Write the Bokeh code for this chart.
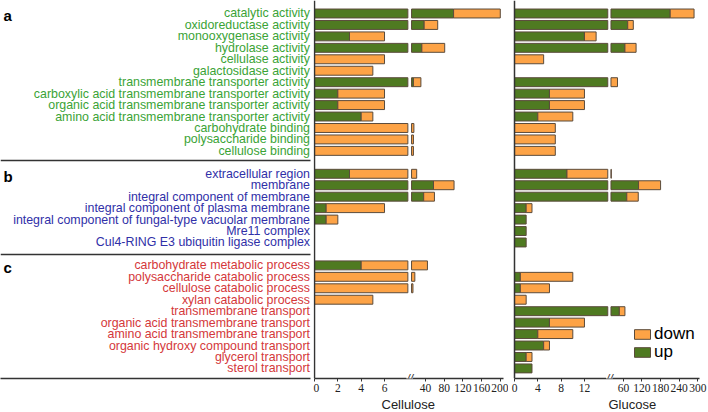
from bokeh.plotting import figure
from bokeh.layouts import row
from bokeh.models import (ColumnDataSource, Range1d, FixedTicker, CustomJSTickFormatter,
                          Span, Label, Legend, LegendItem, Title)
from bokeh.core.properties import value
from bokeh.embed import file_html
from bokeh.resources import INLINE

# ---------------- data ----------------
mf_terms = ["catalytic activity", "oxidoreductase activity", "monooxygenase activity",
            "hydrolase activity", "cellulase activity", "galactosidase activity",
            "transmembrane transporter activity",
            "carboxylic acid transmembrane transporter activity",
            "organic acid transmembrane transporter activity",
            "amino acid transmembrane transporter activity",
            "carbohydrate binding", "polysaccharide binding", "cellulose binding"]
cc_terms = ["extracellular region", "membrane", "integral component of membrane",
            "integral component of plasma membrane",
            "integral component of fungal-type vacuolar membrane",
            "Mre11 complex", "Cul4-RING E3 ubiquitin ligase complex"]
bp_terms = ["carbohydrate metabolic process", "polysaccharide catabolic process",
            "cellulose catabolic process", "xylan catabolic process",
            "transmembrane transport", "organic acid transmembrane transport",
            "amino acid transmembrane transport", "organic hydroxy compound transport",
            "glycerol transport", "sterol transport"]
section_letters = ["a", "b", "c"]

cel_up_mf = [100, 37, 3, 32, 0, 0, 14, 2, 2, 4, 0, 0, 0]
cel_down_mf = [100, 29, 3, 49, 6, 5, 16, 4, 4, 1, 15, 14, 14]
cel_up_cc = [3, 57, 36, 1, 1, 0, 0]
cel_down_cc = [18, 44, 23, 5, 1, 0, 0]
cel_up_bp = [4, 0, 0, 0, 0, 0, 0, 0, 0, 0]
cel_down_bp = [40, 17, 13, 5, 0, 0, 0, 0, 0, 0]

glu_up_mf = [211, 74, 12, 65, 0, 0, 18, 6, 6, 4, 0, 0, 0]
glu_down_mf = [77, 18, 2, 36, 5, 0, 23, 6, 6, 6, 7, 7, 7]
glu_up_cc = [9, 109, 71, 2, 2, 2, 2]
glu_down_cc = [12, 71, 37, 1, 0, 0, 0]
glu_up_bp = [0, 1, 1, 0, 47, 6, 4, 5, 2, 3]
glu_down_bp = [0, 9, 5, 2, 18, 6, 6, 1, 1, 0]

cel_ticks_low = [0, 2, 4, 6]
cel_ticks_high = [40, 80, 120, 160, 200]
glu_ticks_low = [0, 4, 8, 12]
glu_ticks_high = [60, 120, 180, 240, 300]

# ---------------- styling / layout ----------------
GREEN = "#4f7a21"
ORANGE = "#fda346"
OUTLINE = "#5b4b3b"
AX = "#333333"
SEC_COLORS = ["#3aa336", "#3030a8", "#d4383b"]
LABEL_FONT = "Liberation Sans"
TICK_FONT = "Liberation Sans Narrow"

H = 412
B = 34
YTOP, YBOT = -1.135, 31.88
yr = Range1d(YBOT, YTOP)

sections = [mf_terms, cc_terms, bp_terms]
ys, labels, lcolors, first_rows = [], [], [], []
pos = 0
for si, terms in enumerate(sections):
    first_rows.append(pos)
    for t in terms:
        ys.append(pos)
        labels.append(t)
        lcolors.append(SEC_COLORS[si])
        pos += 1
    pos += 1
sep_rows = [12.84, 21.05]

cel_up = cel_up_mf + cel_up_cc + cel_up_bp
cel_down = cel_down_mf + cel_down_cc + cel_down_bp
glu_up = glu_up_mf + glu_up_cc + glu_up_bp
glu_down = glu_down_mf + glu_down_cc + glu_down_bp

BAR_H = 0.78


def make_panel(width, zero_pad, up, down, lo_max, hi_min, hi_max, ppu_lo, gap_px, ppu_hi,
               ticks_low, ticks_high, title, title_offset):
    k = ppu_hi / ppu_lo
    g = gap_px / ppu_lo

    def tp(v):
        return v if v <= lo_max else lo_max + g + (v - hi_min) * k

    def split(a, b):
        out = []
        l, r = max(a, 0), min(b, lo_max)
        if r > l:
            out.append((tp(l), tp(r)))
        l, r = max(a, hi_min), min(b, hi_max)
        if r > l:
            out.append((tp(l), tp(r)))
        return out

    srcs = {}
    for kind in ("up", "down"):
        d = dict(y=[], left=[], right=[])
        for yi, u, dn in zip(ys, up, down):
            a, b = (0, u) if kind == "up" else (u, u + dn)
            for l, r in split(a, b):
                d["y"].append(yi)
                d["left"].append(l)
                d["right"].append(r)
        srcs[kind] = ColumnDataSource(d)

    x0 = -zero_pad / ppu_lo
    x1 = x0 + width / ppu_lo
    p = figure(width=width, height=H, x_range=Range1d(x0, x1), y_range=yr,
               output_backend="svg", toolbar_location=None, y_axis_location=None,
               min_border=0, min_border_bottom=B, outline_line_color=None)
    p.grid.visible = False
    r_up = p.hbar(y="y", left="left", right="right", height=BAR_H, source=srcs["up"],
                  fill_color=GREEN, line_color=OUTLINE, line_width=1)
    r_dn = p.hbar(y="y", left="left", right="right", height=BAR_H, source=srcs["down"],
                  fill_color=ORANGE, line_color=OUTLINE, line_width=1)

    tick_vals = ticks_low + ticks_high
    tick_pos = [tp(v) for v in tick_vals]
    ax = p.xaxis[0]
    ax.ticker = FixedTicker(ticks=tick_pos)
    ax.formatter = CustomJSTickFormatter(
        args=dict(pos=tick_pos, lab=[str(v) for v in tick_vals]),
        code="""
        let best = 0, d = 1e9;
        for (let i = 0; i < pos.length; i++) {
          const e = Math.abs(pos[i] - tick);
          if (e < d) { d = e; best = i; }
        }
        return lab[best];
        """)
    ax.bounds = (0, tp(hi_max))
    ax.axis_line_color = AX
    ax.axis_line_width = 1.5
    ax.major_tick_line_color = AX
    ax.major_tick_out = 3
    ax.major_tick_in = 0
    ax.minor_tick_line_color = None
    ax.major_label_standoff = 2
    ax.major_label_text_font = TICK_FONT
    ax.major_label_text_font_size = "11.5px"
    ax.major_label_text_color = "#222222"

    # axis title below the axis, shifted to sit under the broken axis as in the reference
    p.add_layout(Title(text=title, align="left", offset=title_offset, standoff=1,
                       text_font=LABEL_FONT, text_font_size="13px",
                       text_font_style="normal", text_color="#222222"), "below")

    p.add_layout(Span(location=0, dimension="height", line_color=AX, line_width=1.5))
    p.add_layout(Label(x=lo_max + g / 2, y=YBOT, text="//", text_align="center",
                       text_baseline="middle", text_font_size="12px", text_color=AX,
                       text_font_style="italic",
                       background_fill_color="white", text_font=LABEL_FONT))
    return p, r_up, r_dn


# labels panel
W0 = 313
p0 = figure(width=W0, height=H, x_range=Range1d(0, W0), y_range=yr,
            output_backend="svg", toolbar_location=None, y_axis_location=None,
            min_border=0, min_border_bottom=B, outline_line_color=None)
p0.grid.visible = False
lab_src = ColumnDataSource(dict(x=[309.5] * len(ys), y=ys, text=labels, color=lcolors))
p0.text(x="x", y="y", text="text", text_color="color", source=lab_src,
        text_font=value(LABEL_FONT), text_font_size=value("12.4px"),
        text_align="right", text_baseline="middle")
let_src = ColumnDataSource(dict(x=[3] * 3, y=[r + 0.2 for r in first_rows], text=section_letters))
p0.text(x="x", y="y", text="text", source=let_src, text_color="black",
        text_font=value(LABEL_FONT), text_font_size=value("15px"), text_font_style="bold",
        text_align="left", text_baseline="alphabetic")
p0.segment(x0=[0, 0], x1=[310, 310], y0=sep_rows, y1=sep_rows,
           line_color=AX, line_width=1.5)
ax0 = p0.xaxis[0]
ax0.bounds = (0, 310)
ax0.axis_line_color = AX
ax0.axis_line_width = 1.5
ax0.major_tick_line_color = None
ax0.minor_tick_line_color = None
ax0.major_label_text_color = None
ax0.major_label_text_font_size = "1px"

pc, _, _ = make_panel(195, 1, cel_up, cel_down, 8, 10, 207, 11.67, 3.7, 0.467,
                      cel_ticks_low, cel_ticks_high, "Cellulose", 68)
pg, g_up, g_dn = make_panel(200, 6, glu_up, glu_down, 16, 20, 305, 5.83, 3.2, 0.31,
                            glu_ticks_low, glu_ticks_high, "Glucose", 100)

common = dict(border_line_color=None, background_fill_alpha=0, padding=0, margin=0,
              spacing=0, glyph_width=20, glyph_height=12, label_standoff=2,
              label_height=12, label_text_font=LABEL_FONT, label_text_font_size="17px",
              label_text_color="black")
pg.add_layout(Legend(items=[LegendItem(label="down", renderers=[g_dn])],
                     location=(124, 34), **common))
pg.add_layout(Legend(items=[LegendItem(label="up", renderers=[g_up])],
                     location=(124, 16), **common))

layout = row(p0, pc, pg)
open("out.html", "w").write(file_html(layout, INLINE))
